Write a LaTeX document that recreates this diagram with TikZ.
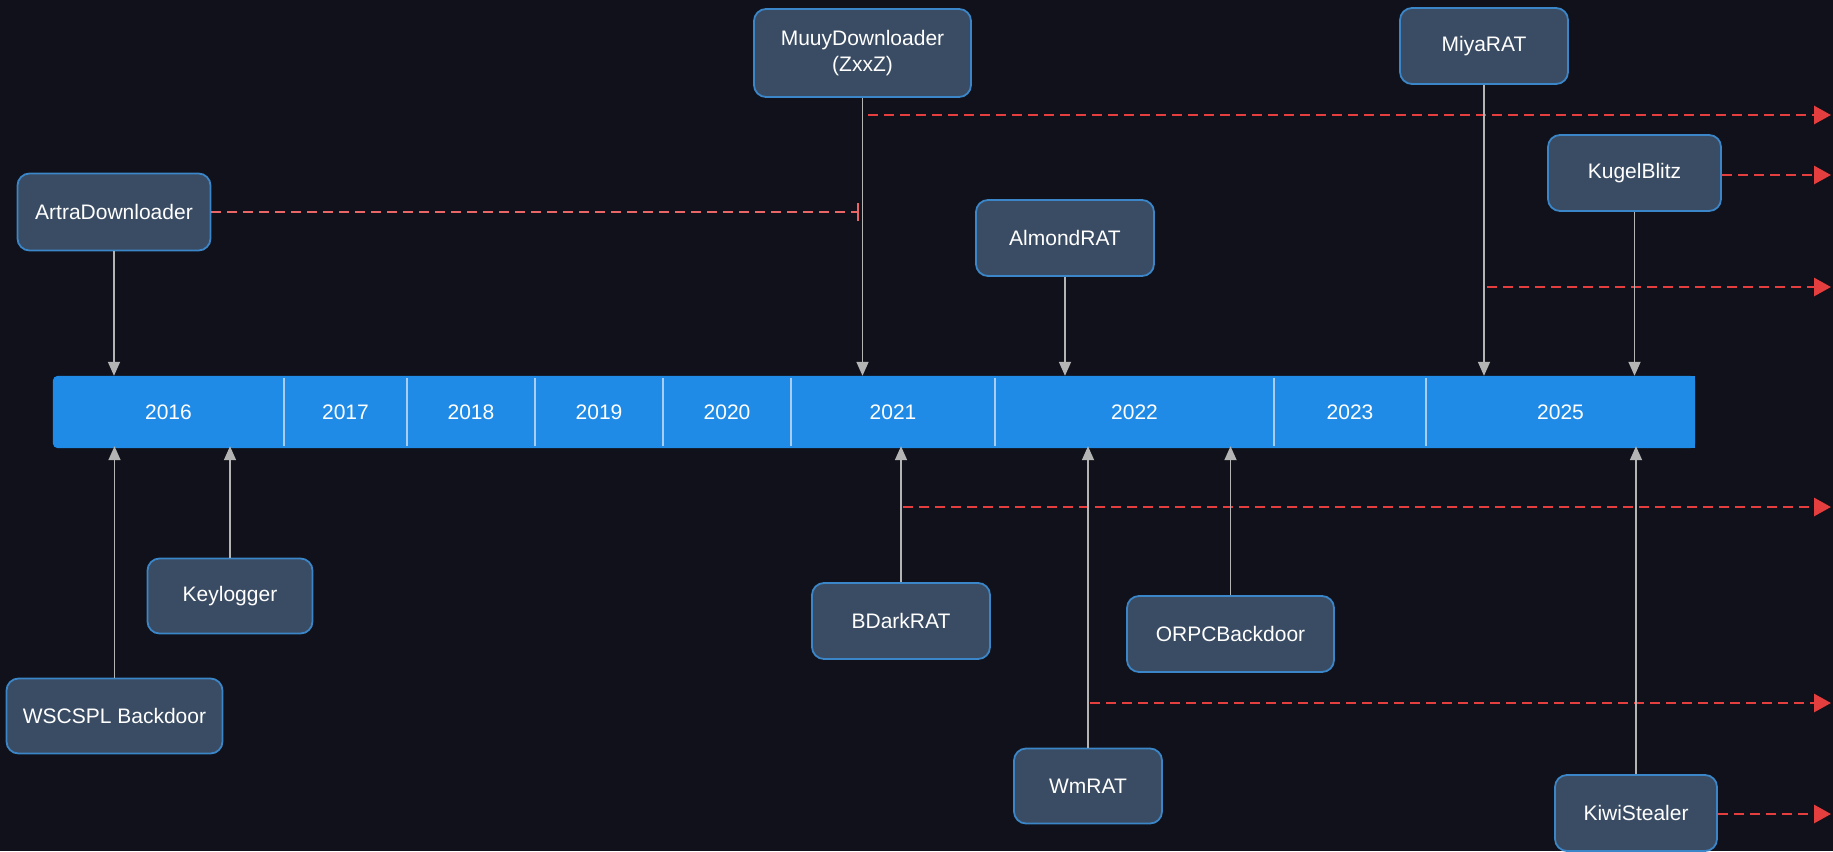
\documentclass[tikz,border=0pt]{standalone}
\usepackage{fontspec}
\setmainfont{Liberation Sans}
\usetikzlibrary{arrows.meta,calc}

\definecolor{bgdark}{HTML}{10111A}
\definecolor{boxfill}{HTML}{3A4C63}
\definecolor{boxedge}{HTML}{3A86C8}
\definecolor{barblue}{HTML}{1F8BE6}
\definecolor{barsep}{HTML}{A8CDEE}
\definecolor{linkgray}{HTML}{B4B4B4}
\definecolor{spreadred}{HTML}{E53E3E}

\begin{document}
\begin{tikzpicture}[x=1pt,y=-1pt,
  event/.style={draw=boxedge, fill=boxfill, line width=1.8pt, rounded corners=12pt,
    text=white, font=\fontsize{21}{26}\selectfont, align=center,
    minimum height=76pt, inner sep=0pt},
  yearlabel/.style={text=white, font=\fontsize{21}{25}\selectfont, inner sep=0pt},
  sepline/.style={draw=barsep, line width=1.6pt},
  link/.style={draw=linkgray, line width=1.7pt, -{Triangle[width=12pt,length=14pt]}},
  spread/.style={draw=spreadred, line width=2.9pt, dash pattern=on 10pt off 6pt,
    -{Triangle[width=18pt,length=17pt]}},
  stopline/.style={draw=spreadred!80!white, line width=2.6pt, dash pattern=on 10pt off 6pt,
    -{Bar[width=18pt,line width=1.6pt]}}
]
% canvas
\fill[bgdark] (0,0) rectangle (1833,851);
\useasboundingbox (0,0) rectangle (1833,851);

% year bar
\node[minimum width=1642pt, minimum height=72pt, inner sep=0pt] (bar) at (874,412) {};
\fill[barblue, rounded corners=5pt] (bar.north west) rectangle (bar.south east);
\fill[barblue] ($(bar.north east)+(-20,0)$) rectangle (bar.south east);
\foreach \x in {284,407,535,663,791,995,1274,1426}
  \draw[sepline] (\x,378) -- (\x,446);
\node[yearlabel] (y16) at (168.5,412) {2016};
\node[yearlabel] (y17) at (345.5,412) {2017};
\node[yearlabel] (y18) at (471,412) {2018};
\node[yearlabel] (y19) at (599,412) {2019};
\node[yearlabel] (y20) at (727,412) {2020};
\node[yearlabel] (y21) at (893,412) {2021};
\node[yearlabel] (y22) at (1134.5,412) {2022};
\node[yearlabel] (y23) at (1350,412) {2023};
\node[yearlabel] (y25) at (1560.5,412) {2025};

% families above the bar
\node[event, minimum width=193pt, minimum height=77pt] (artra) at (114,212) {ArtraDownloader};
\node[event, minimum width=217pt, minimum height=88pt] (muuy) at (862.5,53) {MuuyDownloader\\(ZxxZ)};
\node[event, minimum width=178pt] (almond) at (1065,238) {AlmondRAT};
\node[event, minimum width=168pt] (miya) at (1484,46) {MiyaRAT};
\node[event, minimum width=173pt] (kugel) at (1634.5,173) {KugelBlitz};

% families below the bar
\node[event, minimum width=165pt, minimum height=75pt] (keylog) at (230,596) {Keylogger};
\node[event, minimum width=216pt, minimum height=75pt] (wscspl) at (114.5,716) {WSCSPL Backdoor};
\node[event, minimum width=178pt] (bdark) at (901,621) {BDarkRAT};
\node[event, minimum width=148pt, minimum height=75pt] (wmrat) at (1088,786) {WmRAT};
\node[event, minimum width=207pt] (orpc) at (1230.5,634) {ORPCBackdoor};
\node[event, minimum width=162pt] (kiwi) at (1636,813) {KiwiStealer};

% ends of the continuation arrows at the right edge
\coordinate (r1) at (1831,115);
\coordinate (r2) at (1831,175);
\coordinate (r3) at (1831,287);
\coordinate (r4) at (1831,507);
\coordinate (r5) at (1831,703);
\coordinate (r6) at (1831,814);

% continuation lines
\draw[stopline] (artra.east) -- ([xshift=-4pt]muuy.south |- artra.east);
\draw[spread] ([xshift=5pt]muuy.south |- r1) -- (r1);
\draw[spread] (kugel.east |- r2) -- (r2);
\draw[spread] ([xshift=3pt]miya.south |- r3) -- (r3);
\draw[spread] ([xshift=2pt]bdark.north |- r4) -- (r4);
\draw[spread] ([xshift=2pt]wmrat.north |- r5) -- (r5);
\draw[spread] (kiwi.east |- r6) -- (r6);

% links to the year bar
\draw[link] (artra.south) -- (artra.south |- bar.north);
\draw[link] (muuy.south) -- (muuy.south |- bar.north);
\draw[link] (almond.south) -- (almond.south |- bar.north);
\draw[link] (miya.south) -- (miya.south |- bar.north);
\draw[link] (kugel.south) -- (kugel.south |- bar.north);
\draw[link] (wscspl.north) -- ([yshift=2pt]wscspl.north |- bar.south);
\draw[link] (keylog.north) -- ([yshift=2pt]keylog.north |- bar.south);
\draw[link] (bdark.north) -- ([yshift=2pt]bdark.north |- bar.south);
\draw[link] (wmrat.north) -- ([yshift=2pt]wmrat.north |- bar.south);
\draw[link] (orpc.north) -- ([yshift=2pt]orpc.north |- bar.south);
\draw[link] (kiwi.north) -- ([yshift=2pt]kiwi.north |- bar.south);
\end{tikzpicture}
\end{document}
